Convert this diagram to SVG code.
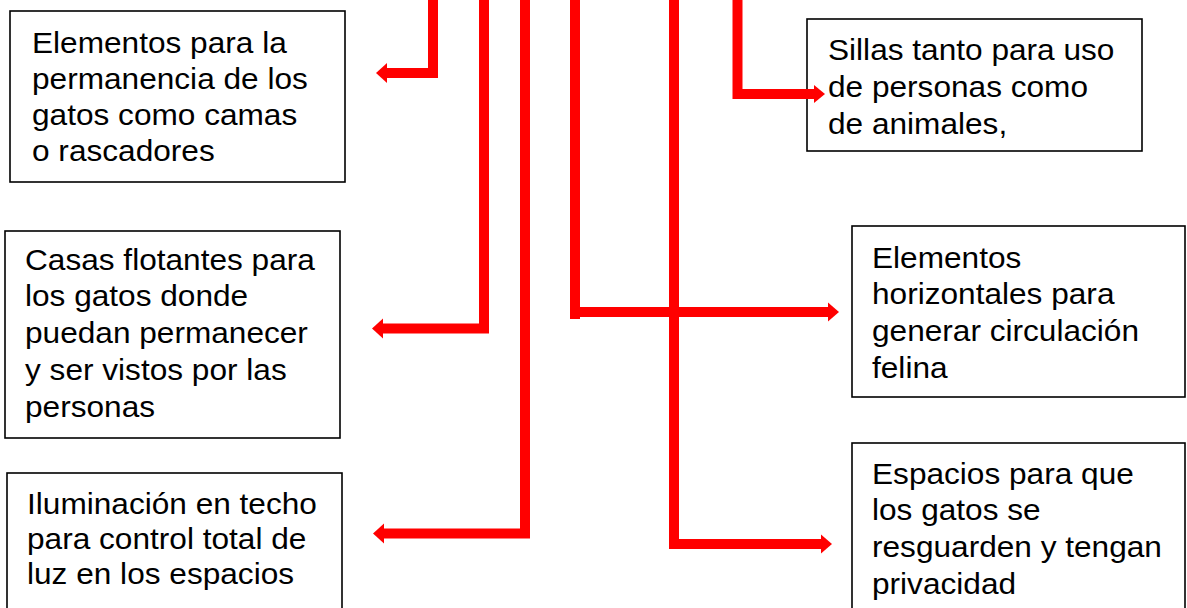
<svg xmlns="http://www.w3.org/2000/svg" width="1187" height="608" viewBox="0 0 1187 608">
<style>
.box{fill:#fff;stroke:#000;stroke-width:1.6}
.t{font-family:"Liberation Sans",Arial,sans-serif;font-size:29px;fill:#000}
.c{fill:none;stroke:#ff0000;stroke-width:10;stroke-linejoin:miter;stroke-linecap:butt}
.h{fill:#ff0000}
</style>
<rect width="1187" height="608" fill="#fff"/>
<g id="n1">
<rect class="box" x="10" y="11" width="335" height="171"/>
<text class="t" transform="translate(32,52.5) scale(1.09,1)"><tspan x="0" y="0">Elementos para la</tspan><tspan x="0" y="36.3">permanencia de los</tspan><tspan x="0" y="72.6">gatos como camas</tspan><tspan x="0" y="108.9">o rascadores</tspan></text>
</g>
<g id="n2">
<rect class="box" x="5" y="231" width="335" height="207"/>
<text class="t" transform="translate(25,269.5) scale(1.09,1)"><tspan x="0" y="0">Casas flotantes para</tspan><tspan x="0" y="37">los gatos donde</tspan><tspan x="0" y="74">puedan permanecer</tspan><tspan x="0" y="111">y ser vistos por las</tspan><tspan x="0" y="148">personas</tspan></text>
</g>
<g id="n3">
<rect class="box" x="7" y="473" width="335" height="140"/>
<text class="t" transform="translate(27,513.5) scale(1.09,1)"><tspan x="0" y="0">Iluminación en techo</tspan><tspan x="0" y="35.5">para control total de</tspan><tspan x="0" y="71">luz en los espacios</tspan></text>
</g>
<g id="n4">
<rect class="box" x="807" y="19" width="335" height="132"/>
<text class="t" transform="translate(828,59.5) scale(1.09,1)"><tspan x="0" y="0">Sillas tanto para uso</tspan><tspan x="0" y="37.5">de personas como</tspan><tspan x="0" y="75">de animales,</tspan></text>
</g>
<g id="n5">
<rect class="box" x="852" y="226" width="333" height="171"/>
<text class="t" transform="translate(872,267.5) scale(1.09,1)"><tspan x="0" y="0">Elementos</tspan><tspan x="0" y="36.7">horizontales para</tspan><tspan x="0" y="73.4">generar circulación</tspan><tspan x="0" y="110.1">felina</tspan></text>
</g>
<g id="n6">
<rect class="box" x="852" y="443" width="333" height="170"/>
<text class="t" transform="translate(872,483.5) scale(1.09,1)"><tspan x="0" y="0">Espacios para que</tspan><tspan x="0" y="36.7">los gatos se</tspan><tspan x="0" y="73.4">resguarden y tengan</tspan><tspan x="0" y="110.1">privacidad</tspan></text>
</g>
<g id="connectors">
<path class="c" d="M433,0 V73 H386"/>
<polygon class="h" points="376,73 387,63 387,83"/>
<path class="c" d="M484,0 V328.5 H382"/>
<polygon class="h" points="372,328.5 383,318.5 383,338.5"/>
<path class="c" d="M525,0 V533.5 H383"/>
<polygon class="h" points="373,533.5 384,523.5 384,543.5"/>
<path class="c" d="M575,0 V319"/>
<path class="c" d="M580,312 H829"/>
<polygon class="h" points="839,312 828,302.5 828,321.5"/>
<path class="c" d="M674,0 V544 H822"/>
<polygon class="h" points="832,544 821,534.5 821,553.5"/>
<path class="c" d="M737.5,0 V94 H815"/>
<polygon class="h" points="825,94 814,85 814,103"/>
</g>
</svg>
